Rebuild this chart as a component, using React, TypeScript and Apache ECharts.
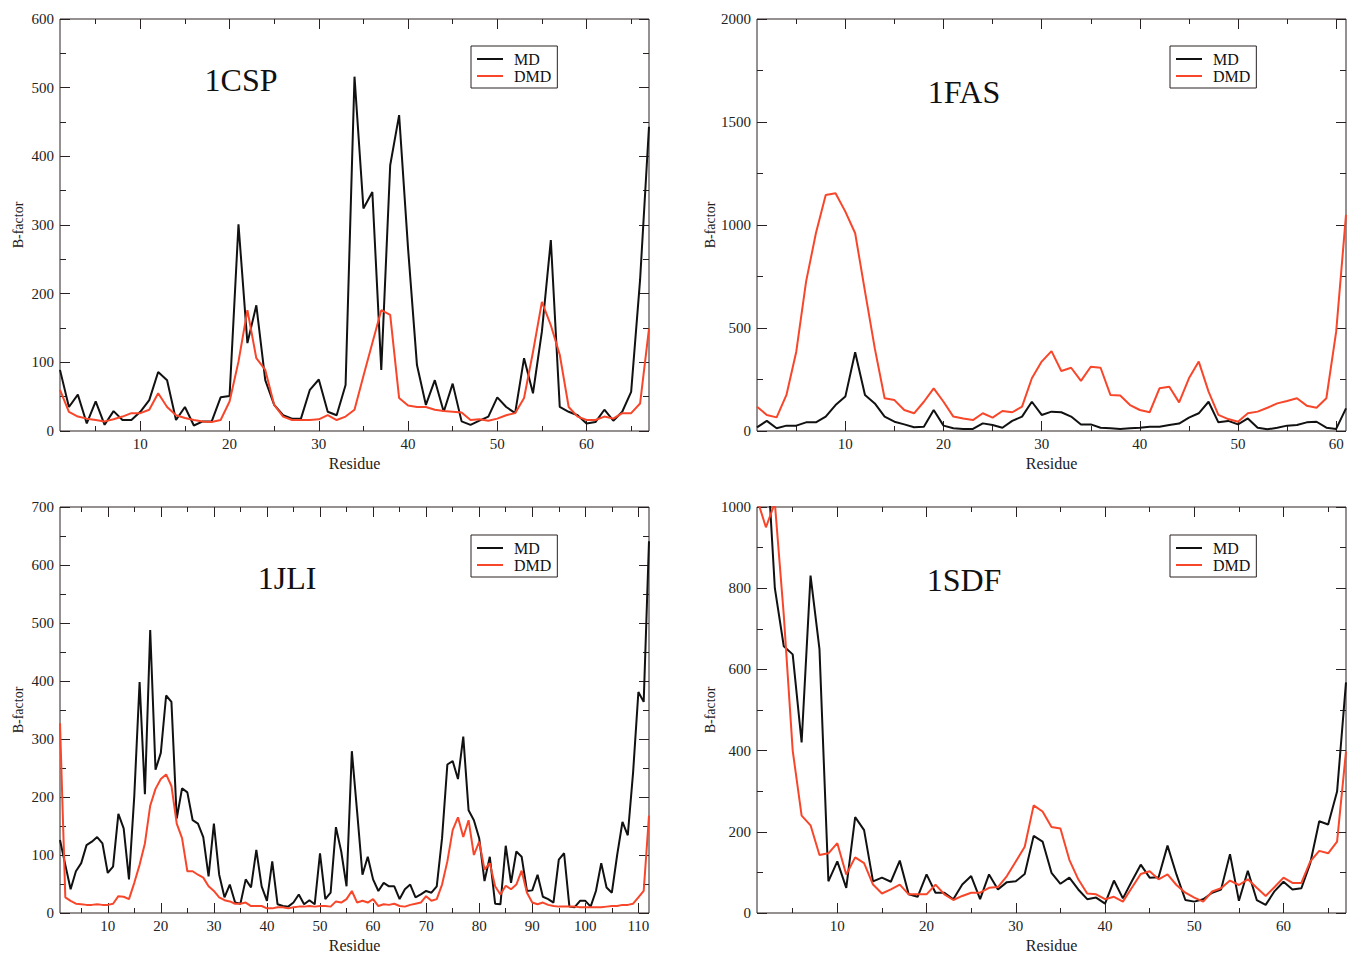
import React, { useEffect, useRef } from "react";
import * as echarts from "echarts";

const FONT = '"Liberation Serif", "Times New Roman", serif';
const BLACK = "#111111";
const RED = "#f8462a";
const FRAME = "#2a2222";

// ---- data (B-factor per residue, residue = index + 1) ----
const CSP_MD = [89, 35, 53, 11, 43, 9, 29, 16, 16, 28, 45, 86, 74, 16, 35, 8, 14, 14, 49, 51, 301, 128, 183, 74, 38, 23, 18, 18, 60, 75, 28, 23, 67, 516, 324, 348, 89, 387, 460, 266, 96, 38, 74, 28, 69, 14, 9, 15, 21, 49, 35, 26, 106, 55, 145, 278, 35, 28, 23, 11, 13, 31, 15, 28, 57, 220, 443];
const CSP_DMD = [60, 28, 21, 18, 16, 14, 17, 21, 26, 26, 31, 55, 35, 23, 19, 16, 14, 13, 16, 43, 101, 176, 106, 89, 38, 21, 16, 16, 16, 17, 23, 16, 21, 31, 80, 128, 176, 169, 48, 37, 35, 35, 31, 29, 28, 27, 16, 17, 15, 18, 23, 26, 48, 115, 188, 154, 111, 35, 21, 16, 16, 21, 18, 26, 26, 40, 149];

const FAS_MD = [18, 49, 13, 26, 26, 42, 42, 70, 126, 167, 382, 175, 134, 70, 45, 32, 18, 21, 102, 26, 13, 10, 10, 37, 29, 16, 49, 70, 142, 78, 94, 91, 70, 32, 32, 16, 13, 10, 13, 16, 21, 21, 29, 36, 65, 86, 142, 42, 49, 32, 61, 16, 8, 16, 26, 29, 42, 45, 16, 10, 110];
const FAS_DMD = [118, 78, 66, 175, 385, 725, 960, 1146, 1154, 1065, 960, 678, 401, 159, 150, 102, 86, 142, 207, 142, 70, 61, 53, 86, 65, 97, 91, 118, 256, 337, 388, 291, 307, 243, 312, 307, 175, 172, 126, 102, 91, 207, 215, 139, 256, 337, 191, 78, 58, 45, 86, 94, 113, 134, 146, 159, 123, 113, 159, 482, 1049];

const JLI_MD = [126, 83, 41, 72, 86, 117, 123, 131, 120, 69, 80, 171, 146, 58, 202, 398, 205, 488, 247, 276, 375, 364, 163, 215, 208, 160, 154, 131, 63, 154, 66, 27, 49, 18, 16, 58, 44, 109, 46, 21, 89, 15, 12, 11, 18, 32, 15, 22, 15, 103, 24, 35, 148, 106, 46, 279, 174, 66, 97, 58, 38, 52, 46, 46, 24, 41, 49, 27, 32, 38, 35, 46, 129, 256, 262, 231, 304, 177, 160, 129, 55, 97, 16, 15, 116, 52, 106, 97, 38, 39, 66, 28, 24, 18, 92, 103, 11, 10, 21, 21, 11, 38, 86, 44, 35, 100, 157, 134, 242, 381, 364, 641];
const JLI_DMD = [327, 27, 21, 16, 15, 14, 14, 15, 14, 14, 16, 29, 28, 24, 52, 83, 120, 185, 214, 231, 239, 219, 154, 129, 72, 72, 66, 61, 46, 38, 27, 22, 20, 16, 16, 18, 12, 12, 12, 8, 8, 10, 10, 8, 10, 11, 11, 12, 11, 12, 12, 11, 20, 18, 24, 38, 18, 21, 18, 24, 12, 15, 14, 16, 12, 11, 14, 16, 18, 29, 21, 24, 49, 89, 143, 165, 131, 160, 100, 123, 75, 86, 46, 32, 47, 41, 49, 73, 35, 18, 15, 18, 14, 12, 11, 11, 11, 11, 10, 10, 10, 10, 10, 11, 12, 12, 14, 14, 16, 27, 38, 168];

const SDF_MD = [1250, 1180, 800, 657, 637, 420, 831, 650, 78, 127, 62, 236, 204, 78, 87, 77, 129, 46, 40, 95, 50, 50, 34, 70, 91, 34, 95, 58, 76, 78, 96, 190, 176, 99, 72, 87, 58, 34, 38, 23, 80, 36, 78, 119, 87, 88, 166, 95, 32, 28, 34, 50, 58, 145, 30, 104, 32, 20, 54, 77, 58, 61, 123, 226, 218, 299, 568];
const SDF_DMD = [1020, 950, 1010, 734, 400, 240, 216, 143, 147, 172, 95, 137, 123, 70, 48, 58, 70, 46, 46, 46, 70, 46, 32, 42, 50, 50, 62, 64, 91, 127, 163, 265, 250, 212, 208, 131, 83, 48, 46, 34, 40, 28, 62, 96, 103, 83, 95, 69, 50, 38, 28, 53, 61, 80, 69, 83, 62, 42, 64, 87, 74, 74, 127, 153, 147, 176, 398];

const X_MAJOR_67 = [10, 20, 30, 40, 50, 60];
const X_MINOR_67 = [5, 15, 25, 35, 45, 55, 65];
const X_MAJOR_61 = [10, 20, 30, 40, 50, 60];
const X_MINOR_61 = [5, 15, 25, 35, 45, 55];
const X_MAJOR_112 = [10, 20, 30, 40, 50, 60, 70, 80, 90, 100, 110];
const X_MINOR_112 = [5, 15, 25, 35, 45, 55, 65, 75, 85, 95, 105];

const SERIES_NAMES = ["MD", "DMD"];

interface Panel {
  title: string;
  md: number[];
  dmd: number[];
  xMax: number;
  yMax: number;
  yInterval: number;
  major: number[];
  minor: number[];
  left: number;
  top: number;
  titlePos: [number, number];
  legendPos: [number, number];
}

const PANELS: Panel[] = [
  { title: "1CSP", md: CSP_MD, dmd: CSP_DMD, xMax: 67, yMax: 600, yInterval: 100, major: X_MAJOR_67, minor: X_MINOR_67, left: 60, top: 19, titlePos: [241, 80], legendPos: [471, 46] },
  { title: "1FAS", md: FAS_MD, dmd: FAS_DMD, xMax: 61, yMax: 2000, yInterval: 500, major: X_MAJOR_61, minor: X_MINOR_61, left: 757, top: 19, titlePos: [964, 92], legendPos: [1170, 46] },
  { title: "1JLI", md: JLI_MD, dmd: JLI_DMD, xMax: 112, yMax: 700, yInterval: 100, major: X_MAJOR_112, minor: X_MINOR_112, left: 60, top: 507, titlePos: [287, 578], legendPos: [471, 535] },
  { title: "1SDF", md: SDF_MD, dmd: SDF_DMD, xMax: 67, yMax: 1000, yInterval: 200, major: X_MAJOR_67, minor: X_MINOR_67, left: 757, top: 507, titlePos: [964, 580], legendPos: [1170, 535] },
];

const W = 589;
const H = 412;

function buildOption() {
  const grid: any[] = [];
  const xAxis: any[] = [];
  const yAxis: any[] = [];
  const series: any[] = [];
  const legend: any[] = [];
  const graphic: any[] = [];

  PANELS.forEach((p, i) => {
    grid.push({
      left: p.left,
      top: p.top,
      width: W,
      height: H,
      show: true,
      borderColor: FRAME,
      borderWidth: 1,
      backgroundColor: "transparent",
    });

    const xBase = {
      gridIndex: i,
      type: "value",
      min: 1,
      max: p.xMax,
      splitLine: { show: false },
      axisLine: { show: false, onZero: false },
    };
    xAxis.push({
      ...xBase,
      position: "bottom",
      axisTick: { show: true, inside: true, length: 10, customValues: p.major, lineStyle: { color: FRAME, width: 1 } },
      axisLabel: { show: true, customValues: p.major, margin: 5, fontSize: 15, fontFamily: FONT, color: "#222", formatter: (v: number) => String(v) },
      name: "Residue",
      nameLocation: "middle",
      nameGap: 24,
      nameTextStyle: { fontSize: 16, fontFamily: FONT, color: "#222" },
    });
    xAxis.push({
      ...xBase,
      position: "bottom",
      axisTick: { show: true, inside: true, length: 5, customValues: p.minor, lineStyle: { color: FRAME, width: 1 } },
      axisLabel: { show: false },
    });
    xAxis.push({
      ...xBase,
      position: "top",
      axisTick: { show: true, inside: true, length: 10, customValues: p.major, lineStyle: { color: FRAME, width: 1 } },
      axisLabel: { show: false },
    });
    xAxis.push({
      ...xBase,
      position: "top",
      axisTick: { show: true, inside: true, length: 5, customValues: p.minor, lineStyle: { color: FRAME, width: 1 } },
      axisLabel: { show: false },
    });

    const yBase = {
      gridIndex: i,
      type: "value",
      min: 0,
      max: p.yMax,
      interval: p.yInterval,
      splitLine: { show: false },
      axisLine: { show: false, onZero: false },
      axisTick: { show: true, inside: true, length: 10, lineStyle: { color: FRAME, width: 1 } },
      minorTick: { show: true, splitNumber: 2, length: 6, lineStyle: { color: FRAME, width: 1 } },
    };
    yAxis.push({
      ...yBase,
      position: "left",
      axisLabel: { show: true, margin: 6, fontSize: 15, fontFamily: FONT, color: "#222", formatter: (v: number) => String(v) },
      name: "B-factor",
      nameLocation: "middle",
      nameRotate: 90,
      nameGap: 35,
      nameTextStyle: { fontSize: 14, fontFamily: FONT, color: "#222" },
    });
    yAxis.push({
      ...yBase,
      position: "right",
      axisLabel: { show: false },
    });

    const mk = (name: string, vals: number[], color: string) => ({
      name,
      type: "line",
      xAxisIndex: i * 4,
      yAxisIndex: i * 2,
      data: vals.map((v, k) => [k + 1, v]),
      symbol: "none",
      showSymbol: false,
      clip: true,
      color,
      lineStyle: { color, width: 2 },
      itemStyle: { color },
      emphasis: { disabled: true },
    });
    series.push(mk("MD", p.md, BLACK));
    series.push(mk("DMD", p.dmd, RED));

    legend.push({
      left: p.legendPos[0],
      top: p.legendPos[1],
      orient: "vertical",
      data: SERIES_NAMES,
      icon: "rect",
      itemWidth: 26,
      itemHeight: 2,
      itemGap: 1,
      padding: [5, 6, 4, 6],
      borderColor: FRAME,
      borderWidth: 1,
      borderRadius: 0,
      backgroundColor: "#fff",
      selectedMode: false,
      textStyle: { fontSize: 16, fontFamily: FONT, color: "#111", padding: [0, 0, 0, 6] },
    });

    graphic.push({
      type: "text",
      x: p.titlePos[0],
      y: p.titlePos[1],
      style: {
        text: p.title,
        fontSize: 32,
        fontFamily: FONT,
        fill: "#111",
        textAlign: "center",
        textVerticalAlign: "middle",
        align: "center",
        verticalAlign: "middle",
      },
    });
  });

  return {
    animation: false,
    backgroundColor: "#ffffff",
    grid,
    xAxis,
    yAxis,
    series,
    legend,
    graphic,
  };
}

export default function App() {
  const ref = useRef<HTMLDivElement>(null);
  useEffect(() => {
    if (!ref.current) return;
    const chart = echarts.init(ref.current, undefined, { renderer: "svg" });
    chart.setOption(buildOption() as any);
    return () => chart.dispose();
  }, []);
  return (
    <div
      ref={ref}
      style={{ position: "fixed", left: 0, top: 0, width: 1348, height: 954, background: "#fff" }}
    />
  );
}
